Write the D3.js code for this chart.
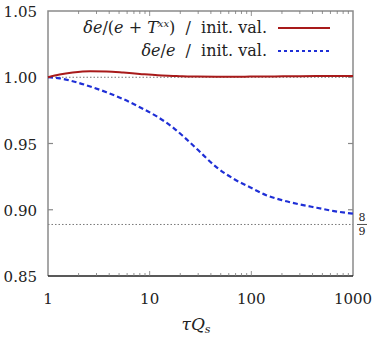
<!DOCTYPE html>
<html>
<head>
<meta charset="utf-8">
<script src="https://cdn.jsdelivr.net/npm/d3@7"></script>
<style>
  body { margin: 0; background: #fff; }
  svg text { font-family: "DejaVu Serif", serif; fill: #222; white-space: pre; }
</style>
</head>
<body>
<script>
// values
let tau      = [1, 1.3, 1.75, 2.6, 3.76, 5.5, 8, 12, 17, 21, 29, 45.6, 70, 97, 140, 205, 300, 440, 650, 1000];
let ratioTxx = [1, 1.002, 1.0035, 1.0045, 1.0043, 1.0035, 1.0025, 1.0015, 1.001, 1.0007, 1.0005, 1.0004, 1.0004, 1.0005, 1.0006, 1.0007, 1.0008, 1.0009, 1.001, 1.001];
let ratioE   = [1, 0.9992, 0.997, 0.993, 0.9887, 0.9835, 0.9774, 0.970, 0.962, 0.956, 0.946, 0.932, 0.9225, 0.917, 0.911, 0.907, 0.904, 0.9015, 0.899, 0.897];
let xTicks = [1, 10, 100, 1000];
let yTicks = [0.85, 0.90, 0.95, 1.00, 1.05];
let limit = 8 / 9;

let width = 374, height = 337;
let margin = {left: 48, right: 21, top: 11, bottom: 61};

let svg = d3.select("body").append("svg")
  .attr("width", width)
  .attr("height", height);

let x = d3.scaleLog().domain([1, 1000]).range([margin.left, width - margin.right]);
let y = d3.scaleLinear().domain([0.85, 1.05]).range([height - margin.bottom, margin.top]);

let x0 = x.range()[0], x1 = x.range()[1];
let y0 = y.range()[0], y1 = y.range()[1];

// reference dotted lines
for (let v of [1, limit]) {
  svg.append("line")
    .attr("x1", x0).attr("x2", x1)
    .attr("y1", y(v)).attr("y2", y(v))
    .style("stroke", "#555")
    .style("stroke-width", 0.8)
    .style("stroke-dasharray", "1.5,2");
}

// frame
svg.append("path")
  .attr("d", `M${x0},${y0}V${y1}H${x1}V${y0}`)
  .style("fill", "none")
  .style("stroke", "#8a8a8a")
  .style("stroke-width", 1.5);
svg.append("line")
  .attr("x1", x0).attr("x2", x1).attr("y1", y0).attr("y2", y0)
  .style("stroke", "#222").style("stroke-width", 1.5);

// log ticks, inside, top and bottom
let minor = [];
for (let d of [1, 10, 100]) for (let k = 2; k <= 9; k++) minor.push(d * k);
for (let t of minor.concat([10, 100])) {
  let len = (t == 10 || t == 100) ? 5 : 3;
  svg.append("line").attr("x1", x(t)).attr("x2", x(t)).attr("y1", y0).attr("y2", y0 - len)
    .style("stroke", "#777").style("stroke-width", 0.8);
  svg.append("line").attr("x1", x(t)).attr("x2", x(t)).attr("y1", y1).attr("y2", y1 + len)
    .style("stroke", "#777").style("stroke-width", 0.8);
}
for (let t of [0.90, 0.95, 1.00]) {
  svg.append("line").attr("x1", x0).attr("x2", x0 + 5).attr("y1", y(t)).attr("y2", y(t))
    .style("stroke", "#888").style("stroke-width", 1.2);
  svg.append("line").attr("x1", x1).attr("x2", x1 - 5).attr("y1", y(t)).attr("y2", y(t))
    .style("stroke", "#888").style("stroke-width", 1.2);
}

// tick labels
svg.selectAll(".ylab").data(yTicks).enter().append("text")
  .attr("x", 37).attr("y", d => y(d) + 6)
  .attr("text-anchor", "end")
  .style("font-size", "15px")
  .text(d => d.toFixed(2));
svg.selectAll(".xlab").data(xTicks).enter().append("text")
  .attr("x", d => x(d)).attr("y", 304)
  .attr("text-anchor", "middle")
  .style("font-size", "15px")
  .text(d => d);

// axis title
let title = svg.append("text").attr("x", 196).attr("y", 330)
  .attr("text-anchor", "middle").style("font-size", "17px").style("font-style", "italic");
title.append("tspan").text("\u03c4Q");
title.append("tspan").attr("dy", 3).style("font-size", "11px").text("s");

// 8/9 label
svg.append("text").attr("x", 362).attr("y", 221).attr("text-anchor", "middle")
  .style("font-size", "11px").text("8");
svg.append("line").attr("x1", 357).attr("x2", 367).attr("y1", y(limit)).attr("y2", y(limit))
  .style("stroke", "#222").style("stroke-width", 0.8);
svg.append("text").attr("x", 362).attr("y", 235).attr("text-anchor", "middle")
  .style("font-size", "11px").text("9");

// curves
let line = d3.line().curve(d3.curveMonotoneX);
svg.append("path")
  .attr("d", line(tau.map((t, i) => [x(t), y(ratioE[i])])))
  .style("fill", "none").style("stroke", "#1f2fd6")
  .style("stroke-width", 2.2).style("stroke-dasharray", "5,3");
svg.append("path")
  .attr("d", line(tau.map((t, i) => [x(t), y(ratioTxx[i])])))
  .style("fill", "none").style("stroke", "#a81a1a")
  .style("stroke-width", 2);

// legend
let leg1 = svg.append("text").attr("x", 267).attr("y", 33).attr("text-anchor", "end").style("font-size", "16px");
leg1.append("tspan").style("font-style", "italic").text("\u03b4e");
leg1.append("tspan").text("/(");
leg1.append("tspan").style("font-style", "italic").text("e");
leg1.append("tspan").text(" + ");
leg1.append("tspan").style("font-style", "italic").text("T");
leg1.append("tspan").attr("dy", -6).style("font-size", "10px").style("font-style", "italic").text("xx");
leg1.append("tspan").attr("dy", 6).text(")  /  init. val.");

let leg2 = svg.append("text").attr("x", 267).attr("y", 56).attr("text-anchor", "end").style("font-size", "16px");
leg2.append("tspan").style("font-style", "italic").text("\u03b4e");
leg2.append("tspan").text("/");
leg2.append("tspan").style("font-style", "italic").text("e");
leg2.append("tspan").text("  /  init. val.");

svg.append("line").attr("x1", 278).attr("x2", 330).attr("y1", 28).attr("y2", 28)
  .style("stroke", "#a81a1a").style("stroke-width", 2);
svg.append("line").attr("x1", 278).attr("x2", 330).attr("y1", 51).attr("y2", 51)
  .style("stroke", "#1f2fd6").style("stroke-width", 2).style("stroke-dasharray", "3,3");
</script>
</body>
</html>
